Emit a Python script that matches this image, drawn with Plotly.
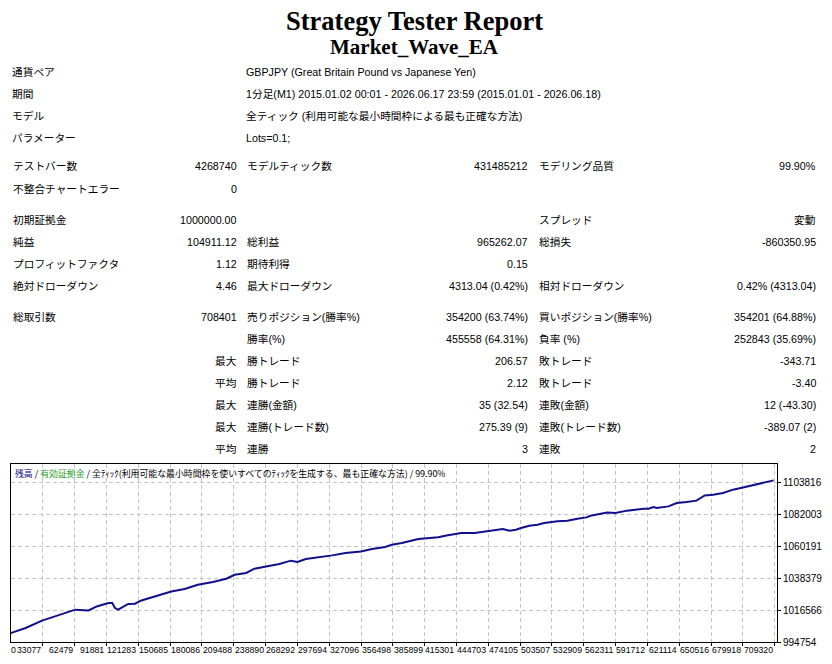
import plotly.graph_objects as go

# ---- report header ----
TITLE = "Strategy Tester Report"
EA_NAME = "Market_Wave_EA"

INFO_ROWS = [
    ("通貨ペア", "GBPJPY (Great Britain Pound vs Japanese Yen)"),
    ("期間", "1分足(M1) 2015.01.02 00:01 - 2026.06.17 23:59 (2015.01.01 - 2026.06.18)"),
    ("モデル", "全ティック (利用可能な最小時間枠による最も正確な方法)"),
    ("パラメーター", "Lots=0.1;"),
]

# label, value, label, value, label, value
STAT_ROWS = [
    ["テストバー数", "4268740", "モデルティック数", "431485212", "モデリング品質", "99.90%"],
    ["不整合チャートエラー", "0", "", "", "", ""],
    ["初期証拠金", "1000000.00", "", "", "スプレッド", "変動"],
    ["純益", "104911.12", "総利益", "965262.07", "総損失", "-860350.95"],
    ["プロフィットファクタ", "1.12", "期待利得", "0.15", "", ""],
    ["絶対ドローダウン", "4.46", "最大ドローダウン", "4313.04 (0.42%)", "相対ドローダウン", "0.42% (4313.04)"],
    ["総取引数", "708401", "売りポジション(勝率%)", "354200 (63.74%)", "買いポジション(勝率%)", "354201 (64.88%)"],
    ["", "", "勝率(%)", "455558 (64.31%)", "負率 (%)", "252843 (35.69%)"],
    ["", "最大", "勝トレード", "206.57", "敗トレード", "-343.71"],
    ["", "平均", "勝トレード", "2.12", "敗トレード", "-3.40"],
    ["", "最大", "連勝(金額)", "35 (32.54)", "連敗(金額)", "12 (-43.30)"],
    ["", "最大", "連勝(トレード数)", "275.39 (9)", "連敗(トレード数)", "-389.07 (2)"],
    ["", "平均", "連勝", "3", "連敗", "2"],
]

# ---- balance curve (trade no., balance) ----
TRADES = [0, 17200, 32400, 47800, 63100, 75300, 82900, 93700, 97300, 99800,
          102800, 112000, 118200, 124200, 139600, 151800, 164100, 176300, 190300, 202600,
          210300, 221000, 228600, 239400, 251600, 262300, 268400, 276100, 288300, 300500,
          312800, 327100, 337200, 349500, 355600, 361100, 364800, 380100, 398400, 406100,
          419800, 432100, 444300, 458100, 464300, 470300, 474900, 482600, 490200, 496400,
          508600, 517800, 527000, 535500, 539200, 554500, 562100, 572900, 588200, 592800,
          597400, 600400, 611100, 618800, 627900, 637100, 644700, 652500, 661600, 670800,
          680000, 692200, 701400, 708401]
BALANCE = [1000000, 1004300, 1009300, 1012900, 1016800, 1016300, 1019000, 1021300, 1021300, 1017900,
           1016800, 1020700, 1020900, 1023100, 1026500, 1029200, 1030900, 1033800, 1035700, 1037900,
           1040600, 1041800, 1044700, 1046300, 1047900, 1050200, 1049300, 1051300, 1052400, 1053800,
           1055400, 1056500, 1058100, 1059500, 1061100, 1061600, 1062200, 1065000, 1066100, 1067400,
           1069100, 1069100, 1070600, 1071800, 1070600, 1071300, 1072500, 1074000, 1074700, 1075900,
           1077000, 1077400, 1078800, 1079700, 1080800, 1083100, 1082700, 1084300, 1085600, 1085600,
           1086800, 1086100, 1087200, 1089500, 1090200, 1091100, 1094700, 1095200, 1096300, 1098600,
           1100100, 1102000, 1103800, 1104911]

X_TICKS = [0, 33077, 62479, 91881, 121283, 150685, 180086, 209488, 238890, 268292,
           297694, 327096, 356498, 385899, 415301, 444703, 474105, 503507, 532909, 562311,
           591712, 621114, 650516, 679918, 709320]
Y_TICKS = [994754, 1016566, 1038379, 1060191, 1082003, 1103816]
X_RANGE = [3700, 711480]
Y_RANGE = [994754, 1116090]

CHART_NOTE = ("<span style='color:#000080'>残高</span> / "
              "<span style='color:#1E9E1E'>有効証拠金</span> / "
              "全ﾃｨｯｸ(利用可能な最小時間枠を使いすべてのﾃｨｯｸを生成する、最も正確な方法) / 99.90%")

# ---- page geometry ----
W, H = 832, 664
ML, MR, MT, MB = 10, 51, 464, 22
PW, PH = W - ML - MR, H - MT - MB
TXT = "Liberation Sans, Noto Sans CJK JP, sans-serif"
JP = "Noto Sans CJK JP"
SERIF = "Liberation Serif, Times New Roman, serif"

INFO_Y = [72, 94, 116, 138]
STAT_Y = [166, 189, 220, 242, 264, 286, 317, 339, 361, 383, 405, 427, 449]
# x position and anchor for the six table columns
COLS = [(10, "left"), (239, "right"), (246, "left"), (532, "right"), (539, "left"), (822, "right")]


def px(x):
    return (x - ML) / PW


def py(y):
    return (H - MB - y) / PH


annotations = []


def note(text, x, y, anchor="left", size=10.7, family=TXT, color="black"):
    if not text:
        return
    annotations.append(dict(
        text=text, x=px(x), y=py(y), xref="paper", yref="paper",
        xanchor=anchor, yanchor="middle", showarrow=False,
        font=dict(size=size, family=family, color=color),
    ))


note("<b>%s</b>" % TITLE, 416, 21, "center", size=26.5, family=SERIF)
note("<b>%s</b>" % EA_NAME, 416, 47, "center", size=21, family=SERIF)

for (label, value), y in zip(INFO_ROWS, INFO_Y):
    note(label, 9, y)
    note(value, 245, y)

for row, y in zip(STAT_ROWS, STAT_Y):
    for text, (x, anchor) in zip(row, COLS):
        note(text, x, y, anchor)

note(CHART_NOTE, 12, 473, size=8.9, family=JP)

# x tick labels sit to the left of their grid line, like the terminal draws them
for t in X_TICKS:
    lab = dict(text=str(t), xref="x", y=0, yref="paper", yanchor="top", yshift=-1,
               showarrow=False, font=dict(size=8.7, family=TXT, color="black"))
    if t < X_RANGE[0]:
        lab.update(x=X_RANGE[0], xanchor="left", xshift=-2)
    else:
        lab.update(x=t, xanchor="right")
    annotations.append(lab)

fig = go.Figure(go.Scatter(
    x=TRADES, y=BALANCE, mode="lines",
    line=dict(color="#10108C", width=2),
    hoverinfo="x+y",
))

grid = dict(showgrid=True, gridcolor="#C4C4C4", griddash="4px,3px", gridwidth=1,
            showline=True, linecolor="black", linewidth=1, mirror=True,
            ticks="outside", ticklen=3, tickcolor="black", zeroline=False)

fig.update_layout(
    width=W, height=H,
    margin=dict(l=ML, r=MR, t=MT, b=MB, pad=0),
    paper_bgcolor="white", plot_bgcolor="white",
    showlegend=False,
    font=dict(family=TXT, color="black"),
    xaxis=dict(range=X_RANGE, tickvals=X_TICKS, showticklabels=False, **grid),
    yaxis=dict(range=Y_RANGE, tickvals=Y_TICKS, tickformat="d", side="right",
               tickfont=dict(size=10, family=TXT), **grid),
    annotations=annotations,
)

fig.write_html("out.html", config={"displayModeBar": False},
               post_script="document.body.style.margin='0px';")
